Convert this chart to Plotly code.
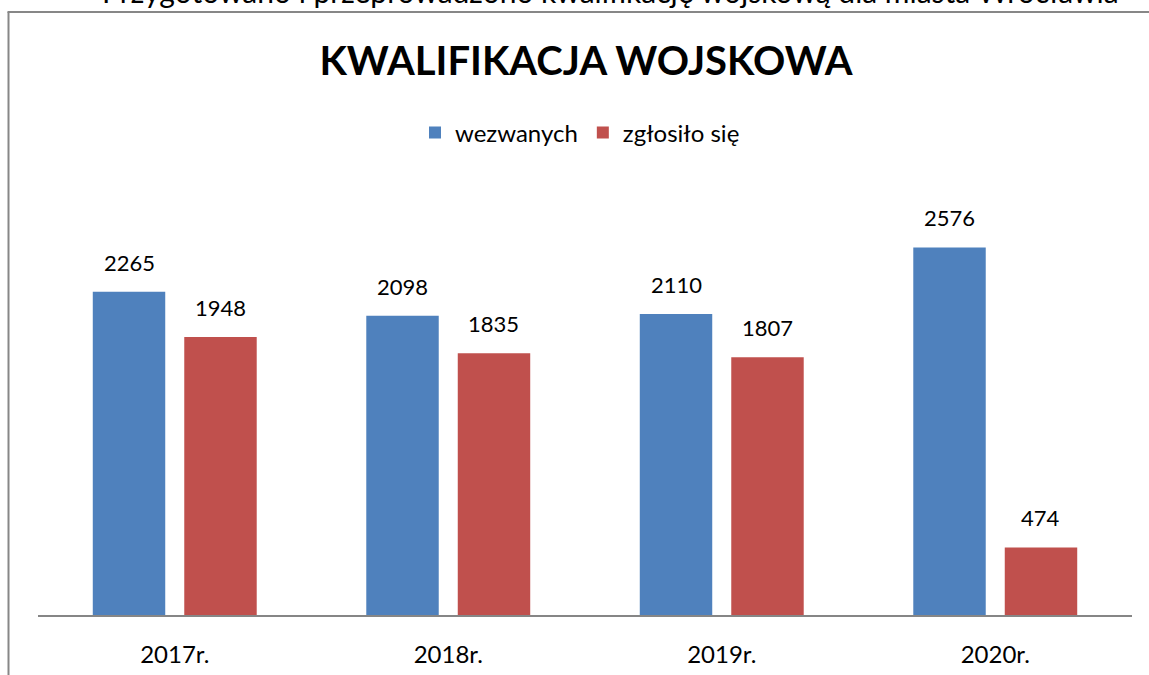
import plotly.graph_objects as go

# Data
categories = ["2017r.", "2018r.", "2019r.", "2020r."]
wezwanych = [2265, 2098, 2110, 2576]
zglosilo = [1948, 1835, 1807, 474]

series_names = ["wezwanych", "zgłosiło się"]
colors = ["#4F81BD", "#C0504D"]

title_text = "KWALIFIKACJA WOJSKOWA"
header_text = "Przygotowano i przeprowadzono kwalifikację wojskową dla miasta Wrocławia"

W, H = 1149, 675
ML, MR, MT, MB = 38, 17, 187, 60
PW, PH = W - ML - MR, H - MT - MB
FONT = "Lato"


def px_x(p):
    return (p - ML) / PW


def px_y(p):
    return (H - MB - p) / PH


fig = go.Figure()
for name, vals, col in zip(series_names, [wezwanych, zglosilo], colors):
    fig.add_trace(go.Bar(
        x=categories, y=vals, name=name,
        marker=dict(color=col, line=dict(width=0)),
        hoverinfo="x+y",
    ))

# value labels above each bar
cat_w = PW / len(categories)
group_w = cat_w * (1 - 0.331)
slot = group_w / 2
for i, vals in enumerate([wezwanych, zglosilo]):
    shift = (i - 0.5) * slot
    for c, v in zip(categories, vals):
        fig.add_annotation(
            x=c, y=v, text=str(v), showarrow=False,
            xshift=shift, yshift=14, yanchor="bottom",
            font=dict(family=FONT, size=22, color="#000000"),
        )

# header line, partially cut at the top edge
fig.add_annotation(
    xref="paper", yref="paper", x=px_x(610), y=px_y(11),
    text=header_text, showarrow=False, xanchor="center", yanchor="bottom",
    font=dict(family=FONT, size=30, color="#000000"),
)

# frame lines of the chart box
fig.add_shape(type="line", xref="paper", yref="paper",
              x0=px_x(8.5), x1=px_x(8.5), y0=px_y(12), y1=px_y(680),
              line=dict(color="#878787", width=2))
fig.add_shape(type="line", xref="paper", yref="paper",
              x0=px_x(7.5), x1=px_x(1155), y0=px_y(12), y1=px_y(12),
              line=dict(color="#878787", width=2))

fig.update_layout(
    width=W, height=H,
    margin=dict(l=ML, r=MR, t=MT, b=MB, pad=0, autoexpand=False),
    paper_bgcolor="white", plot_bgcolor="white",
    barmode="group", bargap=0.331, bargroupgap=0.208,
    title=dict(
        text="<b>" + title_text + "</b>",
        x=586 / W, xanchor="center",
        y=1 - 61 / H, yanchor="middle",
        font=dict(family=FONT, size=40, color="#000000"),
    ),
    legend=dict(
        orientation="h", x=px_x(580), xanchor="center",
        y=px_y(133), yanchor="middle",
        font=dict(family=FONT, size=24, color="#000000"),
        bgcolor="rgba(0,0,0,0)",
    ),
    xaxis=dict(
        showline=True, linecolor="#868686", linewidth=2,
        showgrid=False, ticks="", ticklabelstandoff=17, automargin=False,
        tickfont=dict(family=FONT, size=24, color="#000000"),
        fixedrange=True,
    ),
    yaxis=dict(
        range=[0, 3000], visible=False, showgrid=False, automargin=False,
        fixedrange=True,
    ),
    showlegend=True,
)

fig.write_html("out.html")
